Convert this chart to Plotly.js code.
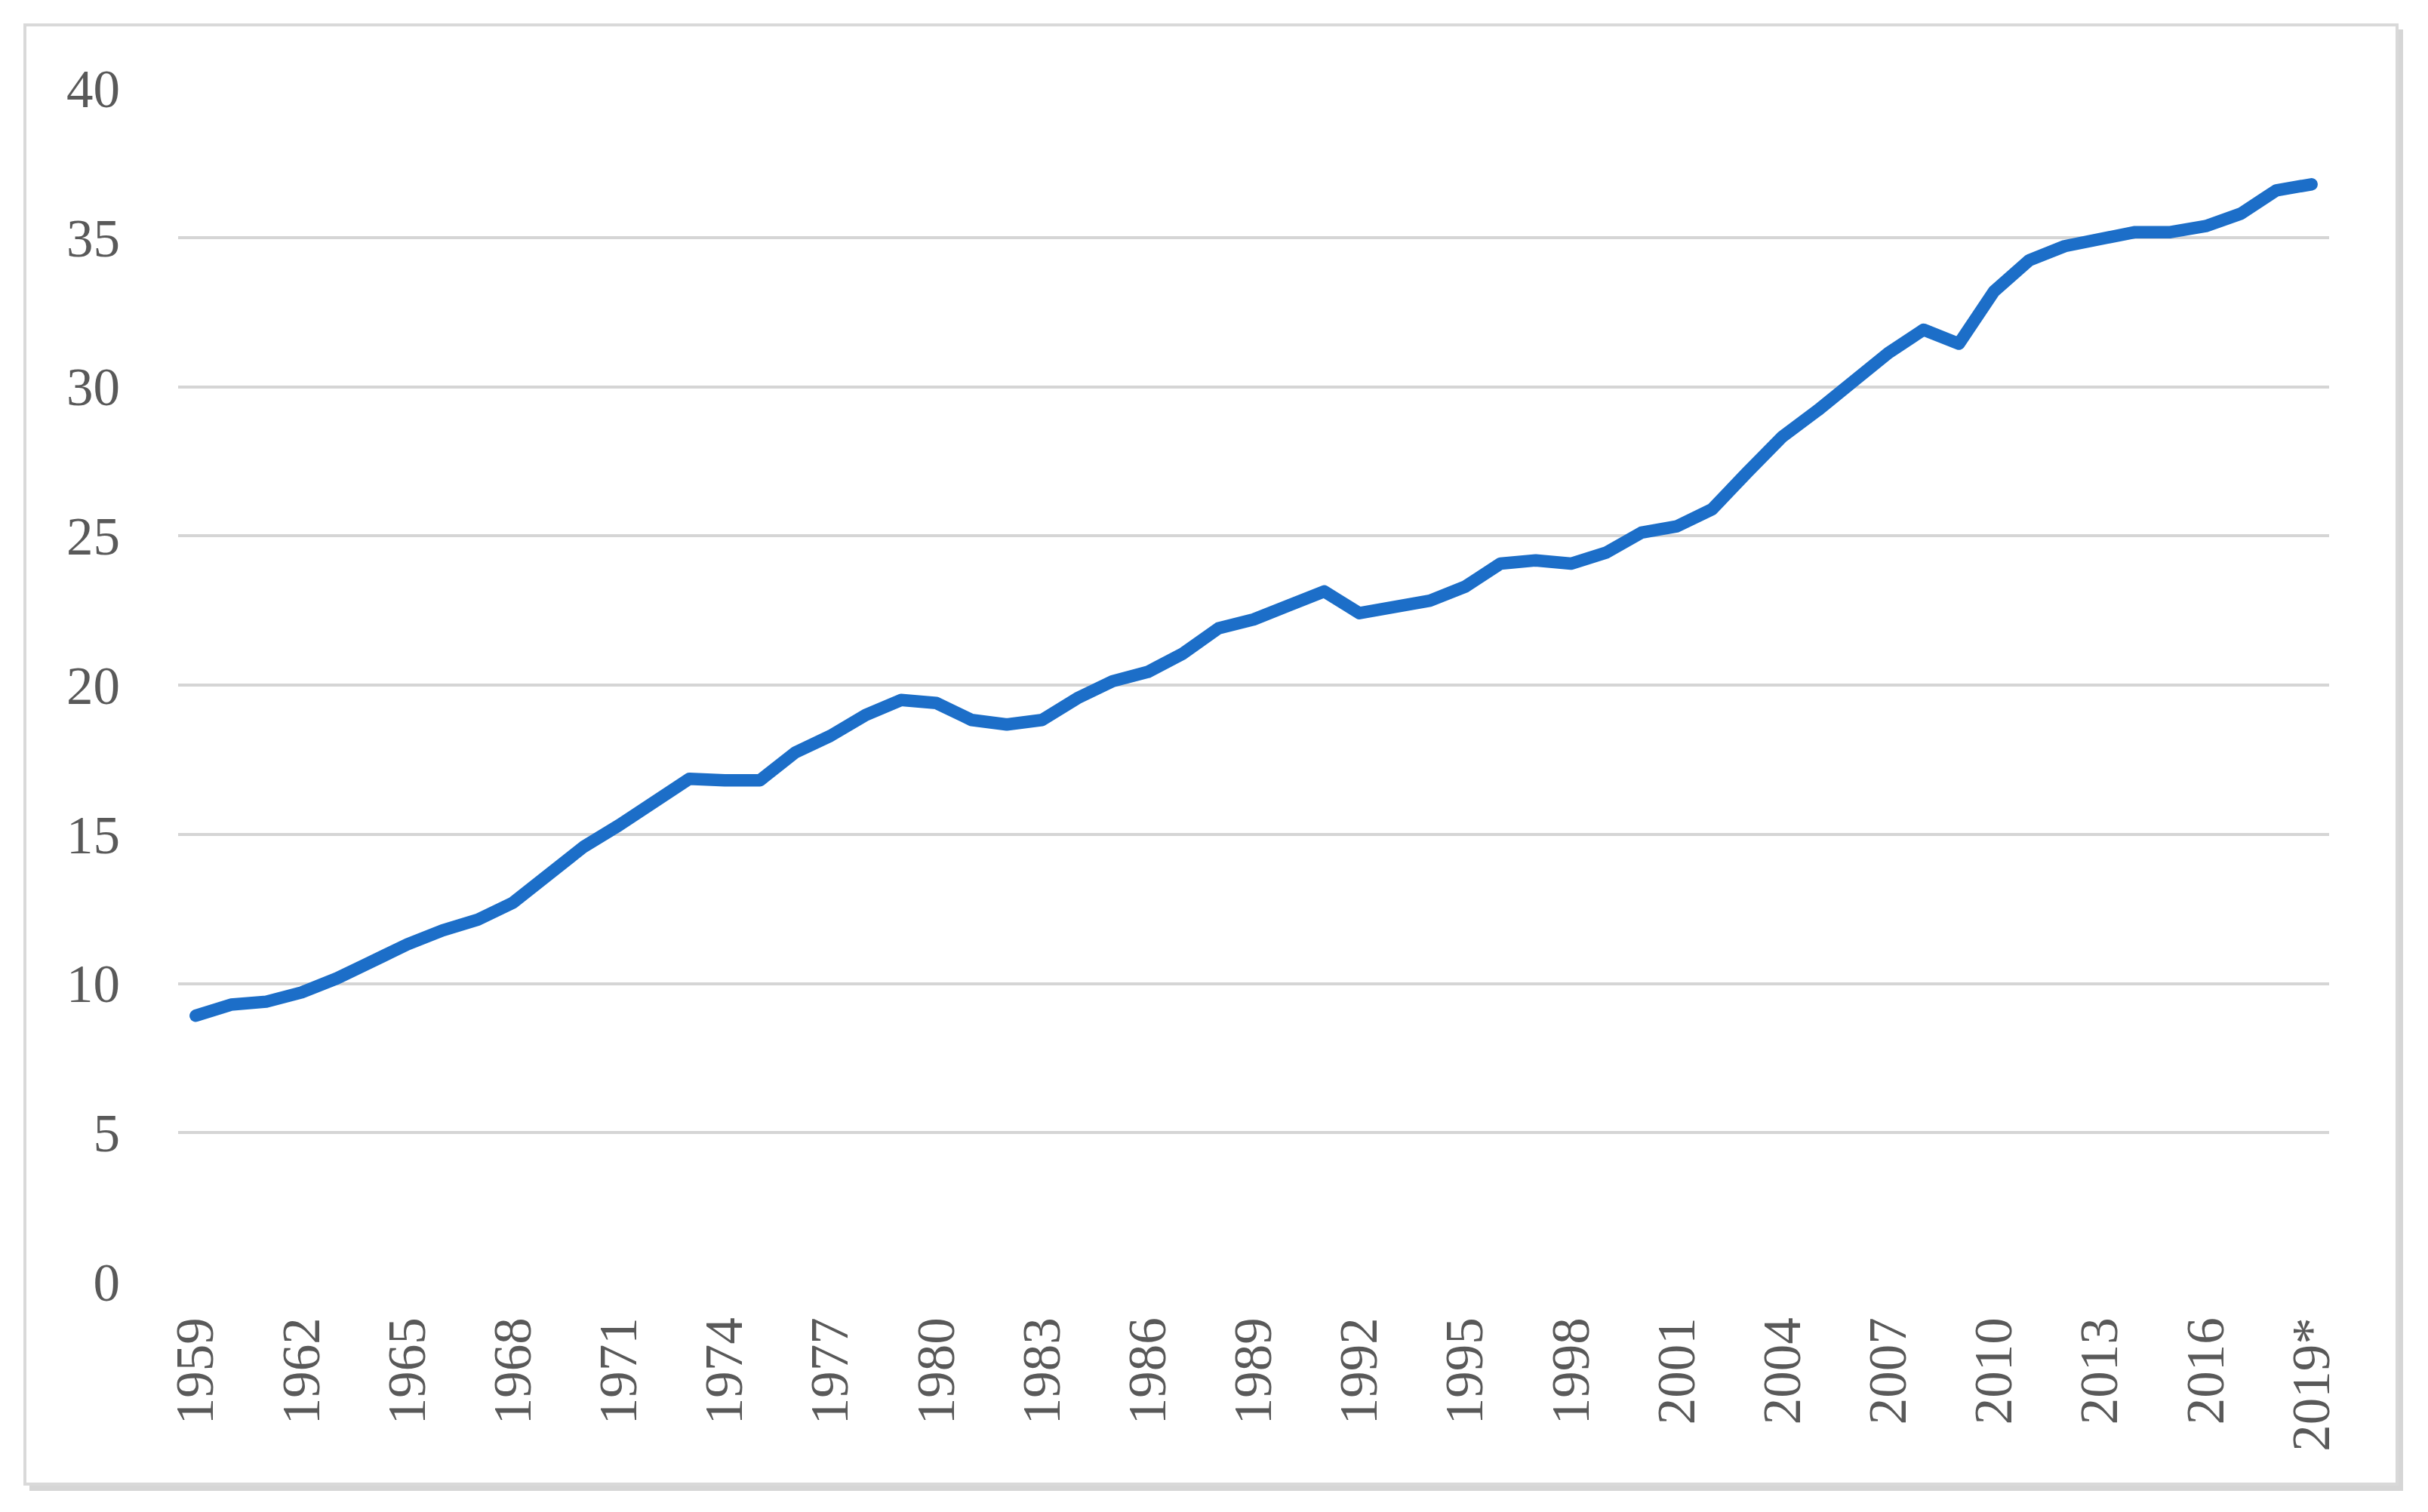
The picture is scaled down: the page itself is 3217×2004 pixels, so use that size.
<!DOCTYPE html>
<html>
<head>
<meta charset="utf-8">
<script src="https://cdn.plot.ly/plotly-3.0.1.min.js"></script>
<style>
html,body{margin:0;padding:0;background:#fff;}
#chart{width:3217px;height:2004px;}
.js-line{stroke-linejoin:round;stroke-linecap:round;}
</style>
</head>
<body>
<div id="chart"></div>
<script>
const years = ["1959","1960","1961","1962","1963","1964","1965","1966","1967","1968",
  "1969","1970","1971","1972","1973","1974","1975","1976","1977","1978",
  "1979","1980","1981","1982","1983","1984","1985","1986","1987","1988",
  "1989","1990","1991","1992","1993","1994","1995","1996","1997","1998",
  "1999","2000","2001","2002","2003","2004","2005","2006","2007","2008",
  "2009","2010","2011","2012","2013","2014","2015","2016","2017","2018","2019*"];
const emissions = [8.92,9.29,9.39,9.70,10.17,10.79,11.31,11.78,12.14,12.71,
  13.59,14.58,15.30,16.08,16.86,16.81,16.81,17.74,18.30,19.00,
  19.50,19.40,18.83,18.68,18.83,19.56,20.13,20.44,21.06,21.90,
  22.20,22.67,23.14,22.41,22.62,22.83,23.30,24.07,24.18,24.07,
  24.44,25.11,25.32,25.89,27.13,28.33,29.21,30.19,31.13,31.91,
  31.44,33.20,34.24,34.71,34.97,35.18,35.18,35.38,35.80,36.58,36.78];
const xTickLabels = ["1959","1962","1965","1968","1971","1974","1977","1980","1983","1986",
  "1989","1992","1995","1998","2001","2004","2007","2010","2013","2016","2019*"];
const yTickValues = [0,5,10,15,20,25,30,35,40];

const W = 3217, H = 2004;
const mL = 236, mR = 131, mT = 117, mB = 305;
const pw = W - mL - mR, ph = H - mT - mB;
function px2x(p){ return (p - mL) / pw; }
function px2y(p){ return (H - mB - p) / ph; }

const trace = {
  type: 'scatter', mode: 'lines',
  x: years, y: emissions,
  line: {color: '#1c6ec8', width: 16.5},
  hoverinfo: 'x+y'
};

const layout = {
  width: W, height: H,
  margin: {l: mL, r: mR, t: mT, b: mB, pad: 0},
  paper_bgcolor: '#ffffff',
  plot_bgcolor: 'rgba(0,0,0,0)',
  showlegend: false,
  font: {family: '"Liberation Serif", "DejaVu Serif", serif', color: '#595959', size: 71},
  xaxis: {
    type: 'category',
    range: [-0.5, years.length - 0.5],
    tickmode: 'array', tickvals: xTickLabels, ticktext: xTickLabels,
    tickangle: -90,
    showgrid: false, zeroline: false, showline: false, ticks: '',
    ticklabelstandoff: 32,
    tickfont: {size: 71, color: '#595959'}
  },
  yaxis: {
    range: [0, 40],
    tickmode: 'array', tickvals: yTickValues,
    showgrid: true, gridcolor: '#d5d5d5', gridwidth: 4,
    zeroline: false, showline: false, ticks: '',
    ticklabelstandoff: 76,
    tickfont: {size: 71, color: '#595959'}
  },
  shapes: [
    {type: 'rect', xref: 'paper', yref: 'paper', layer: 'below',
     x0: px2x(39), x1: px2x(3184), y0: px2y(1976), y1: px2y(39),
     line: {width: 0}, fillcolor: '#d6d6d6'},
    {type: 'rect', xref: 'paper', yref: 'paper', layer: 'below',
     x0: px2x(33), x1: px2x(3176), y0: px2y(1967), y1: px2y(33),
     line: {color: '#d9d9d9', width: 4}, fillcolor: '#ffffff'}
  ]
};

Plotly.newPlot('chart', [trace], layout, {displayModeBar: false, staticPlot: true});
</script>
</body>
</html>
